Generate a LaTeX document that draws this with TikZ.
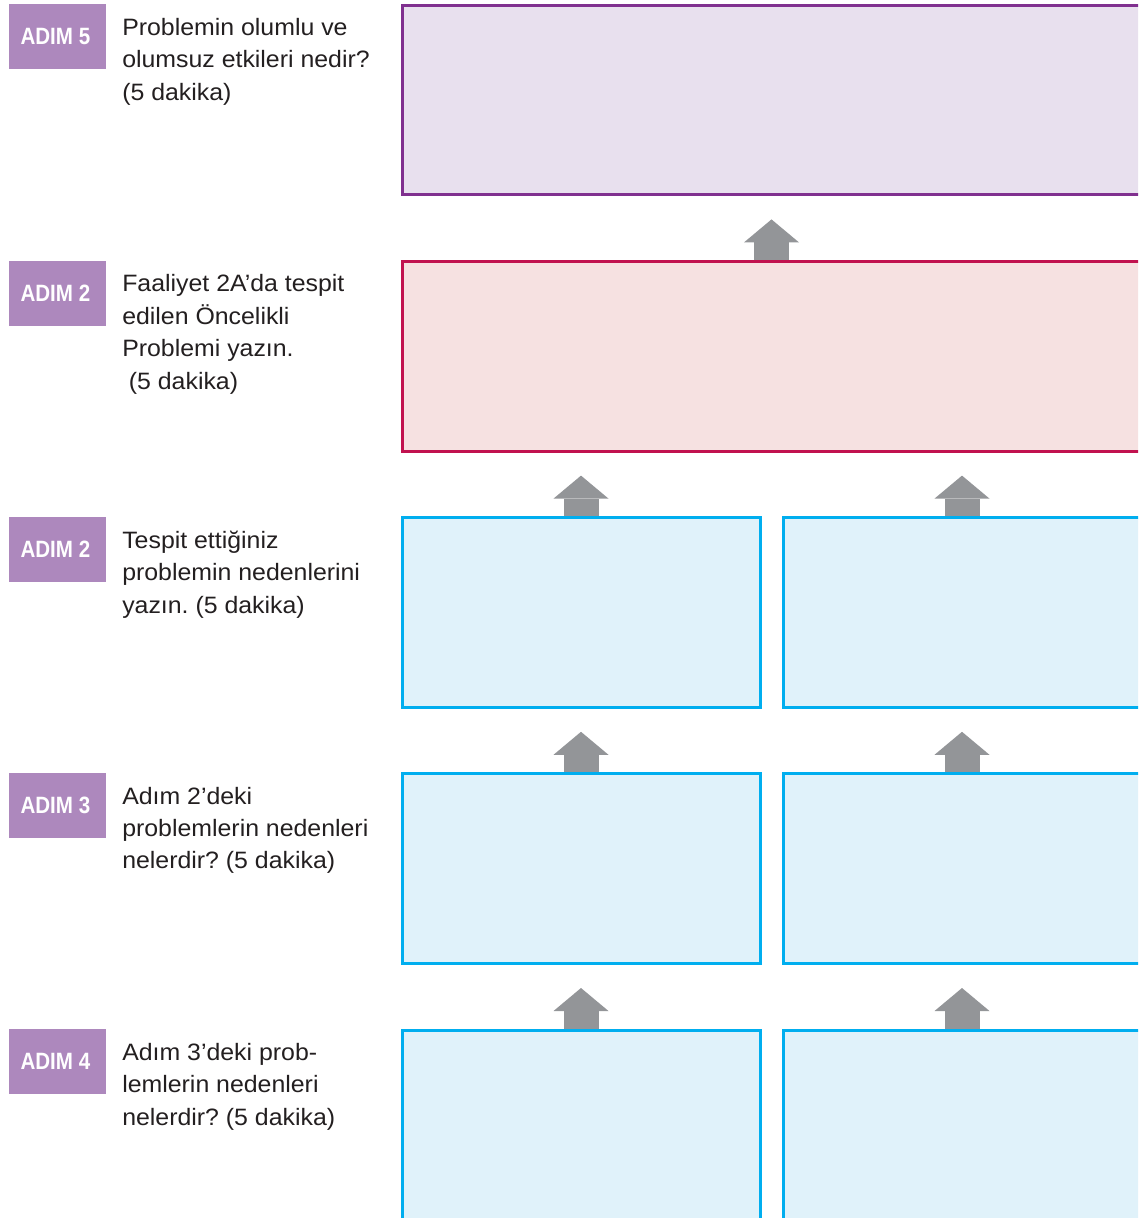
\documentclass[tikz,border=0pt]{standalone}
\usepackage{fontspec}
\setmainfont{Liberation Sans}[FakeStretch=1.05]
\newfontfamily\tagfont[FakeStretch=0.87]{Liberation Sans}
\usetikzlibrary{arrows.meta}

\definecolor{tagpurple}{HTML}{AD88BD}
\definecolor{effectline}{HTML}{80308F}
\definecolor{effectfill}{HTML}{E8E0EE}
\definecolor{problemline}{HTML}{C1124F}
\definecolor{problemfill}{HTML}{F6E1E1}
\definecolor{causeline}{HTML}{00AEEF}
\definecolor{causefill}{HTML}{E0F2FA}
\definecolor{arrowgray}{HTML}{939598}
\definecolor{textdark}{HTML}{231F20}

\def\rowsep{6.405}
\def\rowtop{-0.1325}

\begin{document}
\frenchspacing
\begin{tikzpicture}
    \tikzstyle{tag}=[anchor=north west, fill=tagpurple, inner sep=0pt,
        minimum width=2.425cm, minimum height=1.625cm, text=white,
        font=\tagfont\bfseries\fontsize{16.8pt}{18pt}\selectfont]
    \tikzstyle{question}=[anchor=north west, align=left, inner sep=0pt, text=textdark,
        font=\fontsize{16.85pt}{23.1pt}\selectfont, execute at begin node=\strut]
    \tikzstyle{answerbox}=[anchor=north west, line width=0.075cm, outer sep=0pt,
        minimum height=4.74cm]
    \tikzstyle{effectbox}=[answerbox, draw=effectline, fill=effectfill, minimum width=18.475cm]
    \tikzstyle{problembox}=[answerbox, draw=problemline, fill=problemfill, minimum width=18.475cm]
    \tikzstyle{causebox}=[answerbox, draw=causeline, fill=causefill, minimum width=8.95cm]
    \tikzstyle{uparrow}=[draw=arrowgray, line width=0.875cm,
        -{Triangle[width=1.375cm, length=0.575cm, line width=0pt]},
        shorten <=0.0375cm, shorten >=0.6125cm]

    \useasboundingbox (0,0) rectangle (28.45,-30.45);
    \clip (0,0) rectangle (28.45,-30.45);

    % Step tags with their questions on the left
    \foreach \row / \num / \question in {
        1/5/{Problemin olumlu ve\\olumsuz etkileri nedir?\\(5 dakika)},
        2/2/{Faaliyet 2A’da tespit\\edilen Öncelikli\\Problemi yazın.\\\hspace*{.28em}(5 dakika)},
        3/2/{Tespit ettiğiniz\\problemin nedenlerini\\yazın. (5 dakika)},
        4/3/{Adım 2’deki\\problemlerin nedenleri\\nelerdir? (5 dakika)},
        5/4/{Adım 3’deki prob-\\lemlerin nedenleri\\nelerdir? (5 dakika)}}
    {
        \node[tag] (T-\row) at (0.225,{\rowtop-(\row-1)*\rowsep+0.03}) {\hspace*{-0.12cm}ADIM \num};
        \node[question] (Q-\row) at (3.05,{\rowtop-(\row-1)*\rowsep-0.317}) {\question};
    }

    % Effects and the priority problem span the full width
    \node[effectbox] (effect) at (10.05,\rowtop) {};
    \node[problembox] (problem) at (10.05,{\rowtop-\rowsep}) {};

    % Two columns of causes below the problem
    \foreach \row in {3,4,5}
        \foreach \col in {1,2}
            \node[causebox] (C-\row-\col) at ({10.05+(\col-1)*9.525},{\rowtop-(\row-1)*\rowsep}) {};

    % Arrows point from each cause up to what it leads to
    \draw[uparrow] (problem.north) -- (problem.north |- effect.south);
    \foreach \col in {1,2}
        \draw[uparrow] (C-3-\col.north) -- (C-3-\col.north |- problem.south);
    \foreach \row / \up in {4/3,5/4}
        \foreach \col in {1,2}
            \draw[uparrow] (C-\row-\col.north) -- (C-\up-\col.south);
\end{tikzpicture}
\end{document}
